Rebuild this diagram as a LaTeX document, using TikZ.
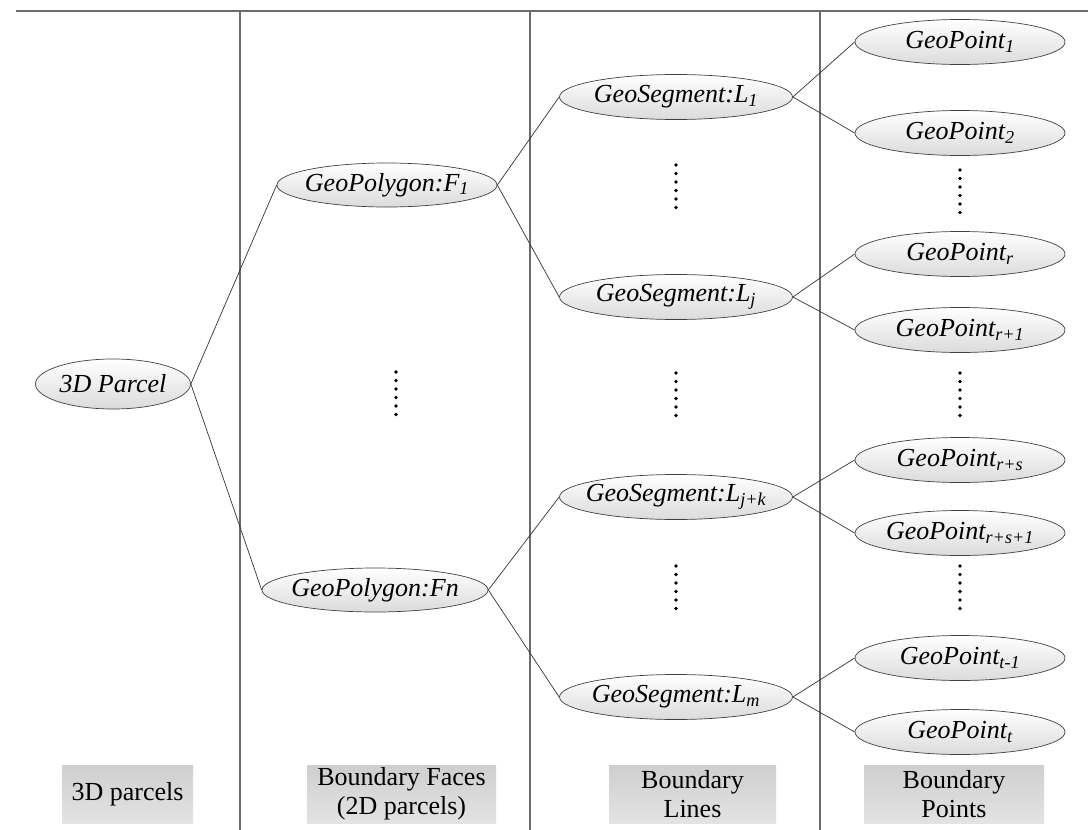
\documentclass[tikz,border=0pt]{standalone}
\usepackage{fontspec}
\setmainfont{Liberation Serif}
\usetikzlibrary{shapes.geometric}

\begin{document}
\begin{tikzpicture}[x=1pt, y=-1pt,
	geo/.style={ellipse, draw=black!75, line width=0.7pt, top color=white, bottom color=gray!28,
		minimum width=210pt, minimum height=45pt, inner sep=0pt,
		font=\itshape\fontsize{26}{30}\selectfont,
		execute at begin node={\hbox to 0pt\bgroup\hss}, execute at end node={\hss\egroup}},
	colhead/.style={rectangle, top color=gray!38, bottom color=gray!22, minimum height=58pt,
		inner sep=0pt, align=center, font=\fontsize{26}{29}\selectfont},
	link/.style={draw=black!80, line width=0.7pt},
	sep/.style={draw=gray!85!black, line width=1.2pt},
	vdots/.style={line width=3.6pt, line cap=round, dash pattern=on 0pt off 8.5pt}]
	\useasboundingbox (0,0) rectangle (1088,830);
	%Column frame
	\draw[sep] (16,11) -- (1088,11);
	\foreach \xx in {240,530,820}
		\draw[sep] (\xx,11) -- (\xx,830);
	%3D parcel
	\node[geo, minimum width=155pt, minimum height=50pt] (parcel) at (113,384) {3D Parcel};
	%Faces
	\node[geo, minimum width=220pt, minimum height=44pt] (faceA) at (387,185) {GeoPolygon:F\textsubscript{1}};
	\node[geo, minimum width=226pt, minimum height=44pt] (faceN) at (375,590) {GeoPolygon:Fn};
	%Lines
	\node[geo, minimum width=233pt] (lineA) at (676,97) {GeoSegment:L\textsubscript{1}};
	\node[geo, minimum width=233pt] (lineJ) at (676,297) {GeoSegment:L\textsubscript{j}};
	\node[geo, minimum width=233pt] (lineJK) at (676,497) {GeoSegment:L\textsubscript{j+k}};
	\node[geo, minimum width=233pt] (lineM) at (676,697) {GeoSegment:L\textsubscript{m}};
	%Points
	\node[geo] (ptA) at (960,42) {GeoPoint\textsubscript{1}};
	\node[geo] (ptB) at (960,133) {GeoPoint\textsubscript{2}};
	\node[geo] (ptR) at (960,254) {GeoPoint\textsubscript{r}};
	\node[geo] (ptRA) at (960,330) {GeoPoint\textsubscript{r+1}};
	\node[geo] (ptRS) at (960,460) {GeoPoint\textsubscript{r+s}};
	\node[geo] (ptRSA) at (960,533) {GeoPoint\textsubscript{r+s+1}};
	\node[geo] (ptTA) at (960,658) {GeoPoint\textsubscript{t-1}};
	\node[geo] (ptT) at (960,732) {GeoPoint\textsubscript{t}};
	%Links
	\draw[link] (parcel.east) -- (faceA.west);
	\draw[link] (parcel.east) -- (faceN.west);
	\draw[link] (faceA.east) -- (lineA.west);
	\draw[link] (faceA.east) -- (lineJ.west);
	\draw[link] (faceN.east) -- (lineJK.west);
	\draw[link] (faceN.east) -- (lineM.west);
	\draw[link] (lineA.east) -- (ptA.west);
	\draw[link] (lineA.east) -- (ptB.west);
	\draw[link] (lineJ.east) -- (ptR.west);
	\draw[link] (lineJ.east) -- (ptRA.west);
	\draw[link] (lineJK.east) -- (ptRS.west);
	\draw[link] (lineJK.east) -- (ptRSA.west);
	\draw[link] (lineM.east) -- (ptTA.west);
	\draw[link] (lineM.east) -- (ptT.west);
	%Dots
	\draw[vdots] (396,372) -- (396,420);
	\foreach \yy in {165,373,566}
		\draw[vdots] (676,\yy) -- (676,\yy+48);
	\foreach \yy in {170,373,566}
		\draw[vdots] (960,\yy) -- (960,\yy+48);
	%Column headings
	\node[colhead, minimum width=131pt] (headParcel) at (127.5,794) {3D parcels};
	\node[colhead, minimum width=189pt] (headFace) at (401.5,794) {Boundary Faces\\(2D parcels)};
	\node[colhead, minimum width=167pt] (headLine) at (692.5,794) {Boundary\\Lines};
	\node[colhead, minimum width=180pt] (headPoint) at (954,794) {Boundary\\Points};
\end{tikzpicture}
\end{document}
